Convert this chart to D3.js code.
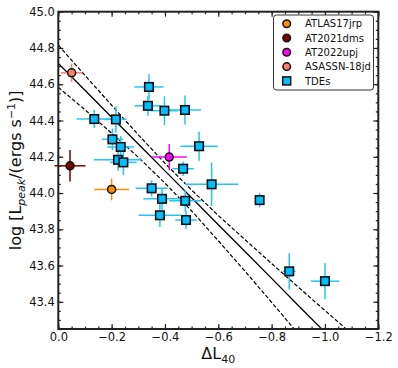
<!DOCTYPE html>
<html>
<head>
<meta charset="utf-8">
<script src="https://cdn.jsdelivr.net/npm/d3@7"></script>
<style>
  body { margin: 0; background: #fff; }
  svg { display: block; font-family: "DejaVu Sans", sans-serif; }
</style>
</head>
<body>
<div id="chart"></div>
<script>
// TDE sample
var tdeX    = [-0.340, -0.336, -0.398, -0.475, -0.135, -0.216, -0.203, -0.234, -0.224, -0.244, -0.468,
               -0.528, -0.575, -0.350, -0.389, -0.476, -0.381, -0.479, -0.755, -0.866, -1.000];
var tdeY    = [44.585, 44.481, 44.454, 44.458, 44.408, 44.406, 44.296, 44.254, 44.183, 44.169, 44.134,
               44.258, 44.048, 44.026, 43.968, 43.957, 43.877, 43.851, 43.961, 43.568, 43.514];
var tdeXerr = [0.055, 0.050, 0.050, 0.060, 0.066, 0.040, 0.040, 0.050, 0.090, 0.050, 0.040,
               0.070, 0.100, 0.060, 0.070, 0.060, 0.080, 0.040, 0.010, 0.024, 0.053];
var tdeYerr = [0.070, 0.055, 0.080, 0.080, 0.050, 0.073, 0.060, 0.060, 0.060, 0.070, 0.040,
               0.080, 0.120, 0.045, 0.060, 0.060, 0.065, 0.050, 0.040, 0.100, 0.100];

// individual events
var eventNames  = ["ATLAS17jrp", "AT2021dms", "AT2022upj", "ASASSN-18jd"];
var eventColors = ["#ff8c00", "#7a0000", "#ff00ff", "#fa8072"];
var eventX      = [-0.200, -0.044, -0.416, -0.050];
var eventY      = [44.020, 44.150, 44.198, 44.663];
var eventXerr   = [0.065, 0.058, 0.066, 0.040];
var eventYerr   = [0.060, 0.087, 0.073, 0.050];

// best fit and confidence band
var fitX     = [0, -0.1, -0.2, -0.3, -0.4, -0.5, -0.6, -0.7, -0.8, -0.9, -1.0, -1.1, -1.2];
var fitY     = [44.715, 44.567, 44.418, 44.270, 44.122, 43.974, 43.825, 43.677, 43.529, 43.380, 43.232, 43.084, 42.935];
var bandHigh = [44.816, 44.649, 44.484, 44.321, 44.164, 44.016, 43.876, 43.743, 43.611, 43.481, 43.352, 43.224, 43.095];
var bandLow  = [44.583, 44.459, 44.330, 44.197, 44.055, 43.901, 43.737, 43.569, 43.397, 43.223, 43.049, 42.870, 42.690];

var xMajor = [0, -0.2, -0.4, -0.6, -0.8, -1.0, -1.2];
var yMajor = [43.4, 43.6, 43.8, 44.0, 44.2, 44.4, 44.6, 44.8, 45.0];

var W = 398, H = 368;
var margin = { top: 11.7, right: 19.7, bottom: 39, left: 58.3 };
var width = W - margin.left - margin.right,
    height = H - margin.top - margin.bottom;

var svg = d3.select("#chart").append("svg")
  .attr("width", W)
  .attr("height", H);

var g = svg.append("g")
  .attr("transform", "translate(" + margin.left + "," + margin.top + ")");

var x = d3.scaleLinear().domain([0, -1.2]).range([0, width]);
var y = d3.scaleLinear().domain([43.25, 45.0]).range([height, 0]);

g.append("clipPath").attr("id", "plotclip")
  .append("rect").attr("width", width).attr("height", height);

var xMinor = d3.range(0, 25).map(function (i) { return -i * 0.05; });
var yMinor = d3.range(0, 36).map(function (i) { return 43.25 + i * 0.05; });

function styleAxis(sel) {
  sel.select(".domain").remove();
  sel.selectAll("line").attr("stroke", "#222").attr("stroke-width", 1.2);
  sel.selectAll("text").attr("font-size", "11.5px").attr("fill", "#111")
    .attr("font-family", "DejaVu Sans, sans-serif");
}

// major + minor ticks, all four sides, pointing in
g.append("g").attr("transform", "translate(0," + height + ")")
  .call(d3.axisBottom(x).tickValues(xMajor).tickSize(-5).tickPadding(4).tickFormat(d3.format(".1f")))
  .call(styleAxis);
g.append("g").attr("transform", "translate(0," + height + ")")
  .call(d3.axisBottom(x).tickValues(xMinor).tickSize(-2.5).tickFormat(""))
  .call(styleAxis);
g.append("g")
  .call(d3.axisTop(x).tickValues(xMajor).tickSize(-5).tickFormat(""))
  .call(styleAxis);
g.append("g")
  .call(d3.axisTop(x).tickValues(xMinor).tickSize(-2.5).tickFormat(""))
  .call(styleAxis);
g.append("g")
  .call(d3.axisLeft(y).tickValues(yMajor).tickSize(-5).tickPadding(3.5).tickFormat(d3.format(".1f")))
  .call(styleAxis);
g.append("g")
  .call(d3.axisLeft(y).tickValues(yMinor).tickSize(-2.5).tickFormat(""))
  .call(styleAxis);
g.append("g").attr("transform", "translate(" + width + ",0)")
  .call(d3.axisRight(y).tickValues(yMajor).tickSize(-5).tickFormat(""))
  .call(styleAxis);
g.append("g").attr("transform", "translate(" + width + ",0)")
  .call(d3.axisRight(y).tickValues(yMinor).tickSize(-2.5).tickFormat(""))
  .call(styleAxis);

// fit lines
var lineGen = d3.line()
  .x(function (d) { return x(d[0]); })
  .y(function (d) { return y(d[1]); });

var lines = g.append("g").attr("clip-path", "url(#plotclip)");
lines.append("path")
  .attr("d", lineGen(d3.zip(fitX, fitY)))
  .attr("fill", "none").attr("stroke", "#000").attr("stroke-width", 1.3);
[bandHigh, bandLow].forEach(function (band) {
  lines.append("path")
    .attr("d", lineGen(d3.zip(fitX, band)))
    .attr("fill", "none").attr("stroke", "#000").attr("stroke-width", 1.2)
    .attr("stroke-dasharray", "4,2");
});

// error bars
function errorBars(xs, ys, xe, ye, color) {
  var eb = g.append("g").attr("stroke", color).attr("stroke-width", 1.5);
  xs.forEach(function (xv, i) {
    eb.append("line")
      .attr("x1", x(xv - xe[i])).attr("x2", x(xv + xe[i]))
      .attr("y1", y(ys[i])).attr("y2", y(ys[i]));
    eb.append("line")
      .attr("x1", x(xv)).attr("x2", x(xv))
      .attr("y1", y(ys[i] - ye[i])).attr("y2", y(ys[i] + ye[i]));
  });
}

errorBars(tdeX, tdeY, tdeXerr, tdeYerr, "#22c6f5");
eventNames.forEach(function (name, i) {
  errorBars([eventX[i]], [eventY[i]], [eventXerr[i]], [eventYerr[i]], eventColors[i]);
});

var sq = 8.5;
g.append("g").selectAll("rect")
  .data(d3.range(tdeX.length))
  .enter().append("rect")
  .attr("x", function (i) { return x(tdeX[i]) - sq / 2; })
  .attr("y", function (i) { return y(tdeY[i]) - sq / 2; })
  .attr("width", sq).attr("height", sq)
  .attr("fill", "#00bfff").attr("stroke", "#111").attr("stroke-width", 1.6);

g.append("g").selectAll("circle")
  .data(d3.range(eventNames.length))
  .enter().append("circle")
  .attr("cx", function (i) { return x(eventX[i]); })
  .attr("cy", function (i) { return y(eventY[i]); })
  .attr("r", 4)
  .attr("fill", function (i) { return eventColors[i]; })
  .attr("stroke", "#111").attr("stroke-width", 1.5);

// frame
g.append("rect")
  .attr("width", width).attr("height", height)
  .attr("fill", "none").attr("stroke", "#222").attr("stroke-width", 2);

// legend
var legend = svg.append("g").attr("transform", "translate(273.5,15)");
legend.append("rect")
  .attr("width", 100).attr("height", 75).attr("rx", 3)
  .attr("fill", "#fff").attr("stroke", "#333").attr("stroke-width", 1);

var legendItems = eventNames.concat(["TDEs"]);
legendItems.forEach(function (name, i) {
  var ly = 8.7 + i * 14.3;
  if (i < eventNames.length) {
    legend.append("circle")
      .attr("cx", 13.2).attr("cy", ly).attr("r", 3.8)
      .attr("fill", eventColors[i]).attr("stroke", "#111").attr("stroke-width", 1.5);
  } else {
    legend.append("rect")
      .attr("x", 13.2 - 4).attr("y", ly - 4).attr("width", 8).attr("height", 8)
      .attr("fill", "#00bfff").attr("stroke", "#111").attr("stroke-width", 1.5);
  }
  legend.append("text")
    .attr("x", 31.5).attr("y", ly).attr("dy", "0.36em")
    .attr("font-size", "10px").attr("fill", "#111")
    .text(name);
});

// axis labels
var xl = svg.append("text")
  .attr("x", margin.left + width / 2).attr("y", 359)
  .attr("text-anchor", "middle").attr("font-size", "16px").attr("fill", "#111");
xl.append("tspan").text("ΔL");
xl.append("tspan").attr("font-size", "11px").attr("dy", 4).text("40");

var yl = svg.append("text")
  .attr("transform", "translate(21," + (margin.top + height / 2) + ") rotate(-90)")
  .attr("text-anchor", "middle").attr("font-size", "16px").attr("fill", "#111");
yl.append("tspan").text("log [L");
yl.append("tspan").attr("font-size", "11px").attr("font-style", "italic").attr("dy", 4).text("peak");
yl.append("tspan").attr("dy", -4).text("/(ergs s");
yl.append("tspan").attr("font-size", "11px").attr("dy", -6).text("−1");
yl.append("tspan").attr("dy", 6).text(")]");
</script>
</body>
</html>
